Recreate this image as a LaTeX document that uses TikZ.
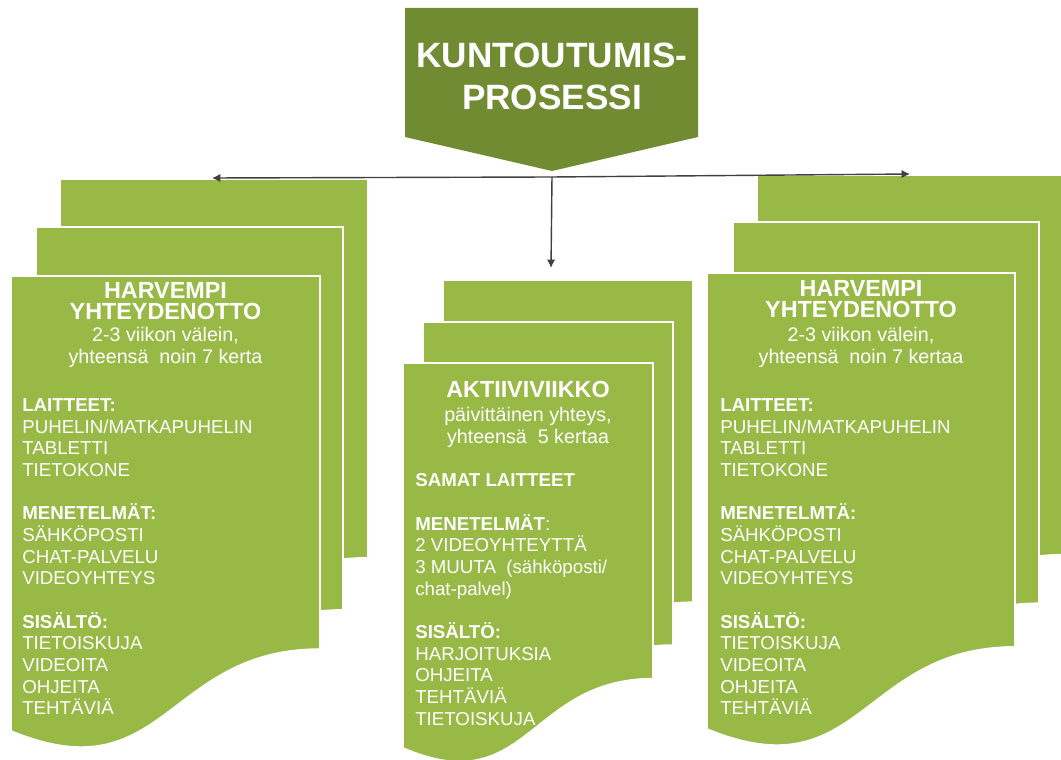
\documentclass[tikz,border=0pt]{standalone}
\usepackage{fontspec}
\setmainfont{Liberation Sans}
\usetikzlibrary{arrows.meta}

\definecolor{leafgreen}{HTML}{98B946}
\definecolor{mossgreen}{HTML}{718B32}
\definecolor{linegray}{HTML}{404040}

\newcommand\blankline{\\[15.4pt]}

\tikzset{
  pics/docsheet/.style 2 args={code={
    \filldraw[fill=leafgreen, draw=white, line width=1.2pt]
      (0,0) -- (#1,0) -- (#1,{0.82*#2})
      .. controls ({0.5*#1},{0.82*#2}) and ({0.5*#1},{1.14*#2}) .. (0,#2) -- cycle;
  }},
  head/.style={text=white, align=center, inner sep=0pt,
    font=\bfseries\fontsize{16.6}{15}\selectfont},
  sub/.style={text=white, align=center, inner sep=0pt,
    font=\fontsize{14}{15.6}\selectfont},
  body/.style={text=white, align=left, inner sep=0pt, anchor=north west,
    font=\fontsize{13.3}{15.4}\selectfont},
  link/.style={draw=linegray, line width=1pt, -{Latex[length=6pt,width=6pt]}}
}

\begin{document}
\begin{tikzpicture}[x=0.025cm, y=-0.025cm]
\clip (0,0) rectangle (1061,760);

% title
\fill[mossgreen] (405,8) -- (698,8) -- (698,137) -- (552,171) -- (405,137) -- cycle;
\node[text=white, align=center, inner sep=0pt,
  font=\bfseries\fontsize{25}{30}\selectfont] (title) at (552,76) {KUNTOUTUMIS-\\PROSESSI};

% document stacks
\foreach \x/\y/\w/\h in {60/179/308/462, 36/227/307/467, 11/276/309/455,
                         443/280/250/393, 423/322/250/394, 403/363/250/385,
                         757/175/308/463, 733/222/306/465, 707/273/308/456}
  \pic at (\x,\y) {docsheet={\w}{\h}};

% left
\node[head] (lhead) at (165.5,301) {HARVEMPI\\YHTEYDENOTTO};
\node[sub] (lsub) at (165.5,347) {2-3 viikon välein,\\yhteensä\ \ noin 7 kerta};
\node[body] (lbody) at (22,398.5) {\textbf{LAITTEET:}\\PUHELIN/MATKAPUHELIN\\TABLETTI\\TIETOKONE\blankline
  \textbf{MENETELMÄT:}\\SÄHKÖPOSTI\\CHAT-PALVELU\\VIDEOYHTEYS\blankline
  \textbf{SISÄLTÖ:}\\TIETOISKUJA\\VIDEOITA\\OHJEITA\\TEHTÄVIÄ};

% middle
\node[head] (mhead) at (528,389) {AKTIIVIVIIKKO};
\node[sub] (msub) at (528,427) {päivittäinen yhteys,\\yhteensä\ \ 5 kertaa};
\node[body] (mbody) at (415,473.5) {\textbf{SAMAT LAITTEET}\blankline
  \textbf{MENETELMÄT}:\\2 VIDEOYHTEYTTÄ\\3 MUUTA\ \ (sähköposti/\\chat-palvel)\blankline
  \textbf{SISÄLTÖ:}\\HARJOITUKSIA\\OHJEITA\\TEHTÄVIÄ\\TIETOISKUJA};

% right
\node[head] (rhead) at (861,299) {HARVEMPI\\YHTEYDENOTTO};
\node[sub] (rsub) at (861,347) {2-3 viikon välein,\\yhteensä\ \ noin 7 kertaa};
\node[body] (rbody) at (720,398.5) {\textbf{LAITTEET:}\\PUHELIN/MATKAPUHELIN\\TABLETTI\\TIETOKONE\blankline
  \textbf{MENETELMTÄ:}\\SÄHKÖPOSTI\\CHAT-PALVELU\\VIDEOYHTEYS\blankline
  \textbf{SISÄLTÖ:}\\TIETOISKUJA\\VIDEOITA\\OHJEITA\\TEHTÄVIÄ};

% connectors
\coordinate (hub) at (552,177);
\coordinate (lefttop) at (212,178);
\coordinate (righttop) at (910,174);
\coordinate (midtop) at (551,268);
\draw[link] (hub) -- (lefttop);
\draw[link] (hub) -- (righttop);
\draw[link] (hub) -- (midtop);
\end{tikzpicture}
\end{document}
